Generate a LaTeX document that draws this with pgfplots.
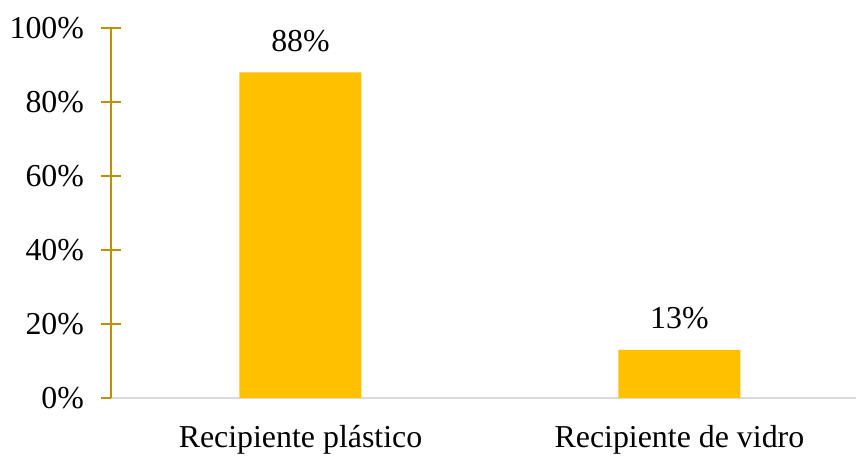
\documentclass[border=0pt]{standalone}
\usepackage{pgfplots}
\pgfplotsset{compat=1.18}
\usepackage{fontspec}
\setmainfont{Liberation Serif}
\definecolor{barfill}{HTML}{FFC000}
\definecolor{axisgold}{HTML}{BF9000}
\definecolor{basegray}{HTML}{D9D9D9}
\begin{document}
\begin{tikzpicture}[x=1bp,y=1bp]
\path[use as bounding box] (0,0) rectangle (856,456);
\begin{axis}[
  at={(111bp,58bp)}, anchor=south west,
  scale only axis, width=745bp, height=370bp,
  xmin=-0.5, xmax=1.466, ymin=0, ymax=100,
  ybar, bar width=122bp,
  axis x line*=bottom, axis y line*=left,
  x axis line style={draw=basegray, line width=2bp},
  y axis line style={draw=axisgold, line width=2bp},
  ytick={0,20,...,100},
  yticklabel={\pgfmathprintnumber{\tick}\%},
  ytick style={draw=axisgold, line width=2bp},
  tick align=center, major tick length=19bp,
  xtick={0,1},
  xticklabels={Recipiente plástico, Recipiente de vidro},
  xtick style={draw=none},
  tick label style={font=\fontsize{32}{38}\selectfont},
  yticklabel style={xshift=-14bp},
  xticklabel style={anchor=base, yshift=-40bp},
  /pgf/number format/assume math mode=true,
  nodes near coords={\pgfmathprintnumber{\pgfplotspointmeta}\%},
  every node near coord/.append style={font=\fontsize{32}{38}\selectfont, anchor=base, yshift=21bp},
  clip=false,
]
\addplot[fill=barfill, draw=none] coordinates {(0,88) (1,13)};
\end{axis}
\end{tikzpicture}
\end{document}
